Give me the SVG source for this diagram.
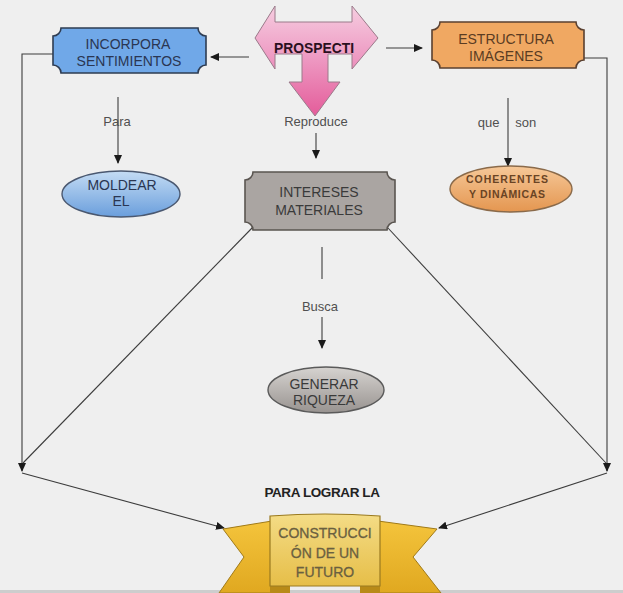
<svg xmlns="http://www.w3.org/2000/svg" width="623" height="593" viewBox="0 0 623 593">
  <defs>
    <style>
      .t { font-family: "Liberation Sans", Arial, sans-serif; text-anchor: middle; }
      .lbl { font-size: 13px; fill: #505050; }
      .conn { stroke: #3c3c3c; stroke-width: 1.1; fill: none; }
      .node { font-size: 14px; }
    </style>
    <marker id="ah" markerWidth="9" markerHeight="8" refX="8" refY="4" orient="auto" markerUnits="userSpaceOnUse">
      <path d="M0,0 L9,4 L0,8 Z" fill="#1a1a1a"/>
    </marker>
    <linearGradient id="gPink" x1="0" y1="0" x2="0" y2="1">
      <stop offset="0" stop-color="#f6cde0"/>
      <stop offset="0.45" stop-color="#ee9cc4"/>
      <stop offset="1" stop-color="#e45c9a"/>
    </linearGradient>
    <linearGradient id="gBlueE" x1="0" y1="0" x2="0" y2="1">
      <stop offset="0" stop-color="#c4dcf4"/>
      <stop offset="1" stop-color="#6a9edc"/>
    </linearGradient>
    <linearGradient id="gOrangeE" x1="0" y1="0" x2="0" y2="1">
      <stop offset="0" stop-color="#f6c898"/>
      <stop offset="1" stop-color="#e49650"/>
    </linearGradient>
    <linearGradient id="gGrayE" x1="0" y1="0" x2="0" y2="1">
      <stop offset="0" stop-color="#d6d3d0"/>
      <stop offset="1" stop-color="#989390"/>
    </linearGradient>
    <linearGradient id="gPanel" x1="0" y1="0" x2="0" y2="1">
      <stop offset="0" stop-color="#f4dc86"/>
      <stop offset="1" stop-color="#e6be48"/>
    </linearGradient>
    <linearGradient id="gWing" x1="0" y1="0" x2="0" y2="1">
      <stop offset="0" stop-color="#f4c43c"/>
      <stop offset="1" stop-color="#e0a820"/>
    </linearGradient>
  </defs>

  <rect x="0" y="0" width="623" height="593" fill="#efefef"/>
  <rect x="0" y="590" width="623" height="3" fill="#cdcdcd"/>

  <g id="connectors">
    <polyline class="conn" points="53,54 22,54 22,471" marker-end="url(#ah)"/>
    <line class="conn" x1="249" y1="57" x2="211" y2="57" marker-end="url(#ah)"/>
    <line class="conn" x1="386" y1="48" x2="422" y2="48" marker-end="url(#ah)"/>
    <polyline class="conn" points="584,58 607,58 607,471" marker-end="url(#ah)"/>
    <line class="conn" x1="118" y1="97" x2="118" y2="163" marker-end="url(#ah)"/>
    <line class="conn" x1="316" y1="133" x2="316" y2="158" marker-end="url(#ah)"/>
    <line class="conn" x1="508" y1="98" x2="508" y2="166" marker-end="url(#ah)"/>
    <line class="conn" x1="322" y1="247" x2="322" y2="279"/>
    <line class="conn" x1="322" y1="317" x2="322" y2="348" marker-end="url(#ah)"/>
    <line class="conn" x1="253" y1="227" x2="23" y2="463"/>
    <line class="conn" x1="388" y1="228" x2="606" y2="463"/>
    <line class="conn" x1="22" y1="473" x2="224" y2="528" marker-end="url(#ah)"/>
    <line class="conn" x1="607" y1="473" x2="439" y2="528" marker-end="url(#ah)"/>
  </g>

  <g id="labels">
    <text class="t lbl" x="117" y="126">Para</text>
    <text class="t lbl" x="316" y="126">Reproduce</text>
    <text class="t lbl" x="507" y="127" word-spacing="12">que son</text>
    <text class="t lbl" x="320" y="311">Busca</text>
    <text class="t" x="322" y="497" font-size="13.5" font-weight="bold" fill="#222" letter-spacing="-0.4">PARA LOGRAR LA</text>
  </g>

  <g id="prospecti">
    <path d="M255,38 L275,6 L275,22 L352,22 L352,6 L378,38 L352,69 L352,54 L328,54 L328,82 L340,82 L315,116 L289,82 L302,82 L302,54 L275,54 L275,69 Z" fill="url(#gPink)" stroke="#9a7a8a" stroke-width="1"/>
    <text class="t" x="314" y="53" font-size="14" font-weight="bold" fill="#2a1020" textLength="80" lengthAdjust="spacingAndGlyphs">PROSPECTI</text>
  </g>

  <g id="incorpora">
    <path d="M61,28 L198,28 A8,8 0 0 0 206,36 L206,65 A8,8 0 0 0 198,73 L61,73 A8,8 0 0 0 53,65 L53,36 A8,8 0 0 0 61,28 Z" fill="#70a8e8" stroke="#2e3c52" stroke-width="1.6"/>
    <text class="t node" x="128" y="49" fill="#2a3652">INCORPORA</text>
    <text class="t node" x="129" y="66" fill="#2a3652">SENTIMIENTOS</text>
  </g>

  <g id="estructura">
    <path d="M440,22 L576,22 A8,8 0 0 0 584,30 L584,60 A8,8 0 0 0 576,68 L440,68 A8,8 0 0 0 432,60 L432,30 A8,8 0 0 0 440,22 Z" fill="#f0a862" stroke="#5a4030" stroke-width="1.6"/>
    <text class="t node" x="506" y="44" fill="#5a3c22">ESTRUCTURA</text>
    <text class="t node" x="506" y="61" fill="#5a3c22">IMÁGENES</text>
  </g>

  <g id="moldear">
    <ellipse cx="121" cy="194" rx="59" ry="23" fill="url(#gBlueE)" stroke="#4a5870" stroke-width="1.4"/>
    <text class="t node" x="122" y="190" fill="#2a3652">MOLDEAR</text>
    <text class="t node" x="121" y="206" fill="#2a3652">EL</text>
  </g>

  <g id="intereses">
    <path d="M253,172 L387,172 A8,8 0 0 0 395,180 L395,222 A8,8 0 0 0 387,230 L253,230 A8,8 0 0 0 245,222 L245,180 A8,8 0 0 0 253,172 Z" fill="#aaa5a2" stroke="#5a5550" stroke-width="1.6"/>
    <text class="t node" x="319" y="197" fill="#3a3a3a">INTERESES</text>
    <text class="t node" x="319" y="215" fill="#3a3a3a">MATERIALES</text>
  </g>

  <g id="coherentes">
    <ellipse cx="511" cy="189" rx="61" ry="23" fill="url(#gOrangeE)" stroke="#8a6a4a" stroke-width="1.4"/>
    <text class="t" x="507" y="183" font-size="10.5" font-weight="bold" fill="#6a4424" textLength="82" lengthAdjust="spacing">COHERENTES</text>
    <text class="t" x="507" y="198" font-size="10.5" font-weight="bold" fill="#6a4424" textLength="76" lengthAdjust="spacing">Y DINÁMICAS</text>
  </g>

  <g id="generar">
    <ellipse cx="326" cy="390" rx="58" ry="23" fill="url(#gGrayE)" stroke="#5a5a5a" stroke-width="1.4"/>
    <text class="t node" x="324" y="389" fill="#3a3a3a">GENERAR</text>
    <text class="t node" x="324" y="405" fill="#3a3a3a">RIQUEZA</text>
  </g>

  <g id="construccion">
    <polygon points="223,529 272,521 272,593 219,593 244,557" fill="url(#gWing)" stroke="#a07a18" stroke-width="1"/>
    <polygon points="437,529 378,521 378,593 441,593 413,557" fill="url(#gWing)" stroke="#a07a18" stroke-width="1"/>
    <polygon points="270,584 290,584 290,593 270,593" fill="#b88a18"/>
    <polygon points="360,584 380,584 380,593 360,593" fill="#b88a18"/>
    <path d="M270,516 Q325,512 380,516 L380,586 L270,586 Z" fill="url(#gPanel)" stroke="#9a7a20" stroke-width="1.2"/>
    <text class="t node" x="325" y="538" fill="#6a6040" stroke="#6a6040" stroke-width="0.3">CONSTRUCCI</text>
    <text class="t node" x="325" y="558" fill="#6a6040" stroke="#6a6040" stroke-width="0.3">ÓN DE UN</text>
    <text class="t node" x="325" y="577" fill="#6a6040" stroke="#6a6040" stroke-width="0.3">FUTURO</text>
  </g>
</svg>
